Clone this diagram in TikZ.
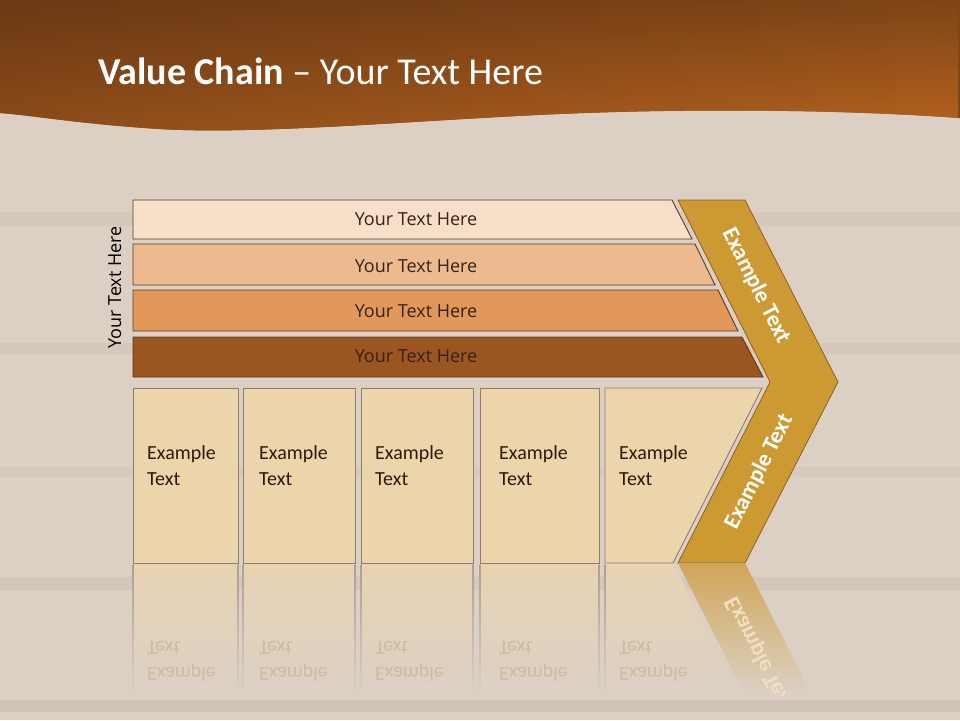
\documentclass[tikz,border=0pt]{standalone}
\usepackage{fontspec}
\setmainfont{Carlito}
\newfontfamily\opensans{Open Sans}
\definecolor{hdrTL}{HTML}{6A3914}
\definecolor{hdrTR}{HTML}{7E4517}
\definecolor{hdrBL}{HTML}{8E4D1A}
\definecolor{hdrBR}{HTML}{B8641F}
\definecolor{bgbase}{HTML}{DCD0C5}
\definecolor{wood}{HTML}{7A5A3C}
\definecolor{barA}{HTML}{F7DFCA}
\definecolor{barB}{HTML}{EDBA90}
\definecolor{barC}{HTML}{E2975B}
\definecolor{barD}{HTML}{9A5520}
\definecolor{barline}{HTML}{5A3A22}
\definecolor{boxfill}{HTML}{EDD5AB}
\definecolor{boxline}{HTML}{8C7D6E}
\definecolor{chev}{HTML}{CC9933}
\definecolor{chevline}{HTML}{8A6420}
\definecolor{bartext}{HTML}{33231A}
\definecolor{celltxt}{HTML}{2A1A0C}
\usetikzlibrary{fadings}
\tikzfading[name=hdrfade, top color=transparent!100, bottom color=transparent!0]
\begin{document}
\begin{tikzpicture}[x=1pt,y=-1pt,
  bar/.style={draw=barline, line width=0.9pt},
  barlabel/.style={font=\opensans\fontsize{18}{20}\selectfont, text=bartext, anchor=base, inner sep=0},
  cell/.style={draw=boxline, fill=boxfill, line width=0.9pt},
  celltext/.style={anchor=base west, inner sep=0, text=celltxt},
  reflcell/.style={top color=boxfill!70!bgbase, bottom color=bgbase},
  refltext/.style={anchor=base west, inner sep=0, text=celltxt!22!boxfill!60!bgbase, yscale=-1},
  chevronshape/.style={fill=chev, draw=chevline, line width=0.8pt},
  chevtext/.style={font=\bfseries\fontsize{23}{26}\selectfont, text=white, inner sep=0}
]
\useasboundingbox (0,0) rectangle (960,720);
% background
\fill[bgbase] (0,0) rectangle (960,720);
\fill[wood, opacity=0.06] (0,212) rectangle (960,226);
\fill[wood, opacity=0.06] (0,343) rectangle (960,354);
\fill[wood, opacity=0.05] (0,467) rectangle (960,477);
\fill[wood, opacity=0.08] (0,577) rectangle (960,590);
\fill[wood, opacity=0.10] (0,700) rectangle (960,712);
% header
\path[left color=hdrTL, right color=hdrTR] (0,0) -- (960,0) -- (960,118)
  .. controls (850,110) and (700,108) .. (560,114)
  .. controls (420,120) and (260,135) .. (160,129)
  .. controls (80,124) and (30,115) .. (0,113) -- cycle;
\path[left color=hdrBL, right color=hdrBR, path fading=hdrfade] (0,0) -- (960,0) -- (960,118)
  .. controls (850,110) and (700,108) .. (560,114)
  .. controls (420,120) and (260,135) .. (160,129)
  .. controls (80,124) and (30,115) .. (0,113) -- cycle;
\node[anchor=base west, text=white, inner sep=0, font=\fontsize{38}{40}\selectfont] (title) at (98,84) {\textbf{Value Chain} – Your Text Here};
% reflection (below the cells)
\begin{scope}
\clip (0,564) rectangle (960,695);
\shade[reflcell] (133,563) rectangle (238,695);
\shade[reflcell] (243,563) rectangle (355,695);
\shade[reflcell] (361,563) rectangle (473,695);
\shade[reflcell] (480,563) rectangle (599,695);
\shade[reflcell] (605,563) -- (673,563) -- (740,695) -- (605,695) -- cycle;
\shade[top color=chev!75!bgbase, bottom color=bgbase] (678,563) -- (745,563) -- (812,695) -- (745,695) -- cycle;
\foreach \x in {133,238,243,355,361,473,480,599,605}{
  \shade[top color=boxline!60!bgbase, bottom color=bgbase] (\x-0.5,563) rectangle (\x+0.5,695);
}
\end{scope}
\foreach \x/\n in {147/r1,259/r2,375/r3,499/r4,619/r5}{
  \node[refltext] (\n) at (\x,667) {\parbox[t]{90pt}{\fontsize{20}{26}\selectfont Example\\Text}};
}
\begin{scope}
\clip (678,563) -- (745,563) -- (812,695) -- (745,695) -- cycle;
\node[chevtext, rotate=-63.2, yscale=-1, text=white!70!chev] (rch) at (759,654) {Example Text};
\end{scope}
% bars
\path[bar, fill=barA] (133,200) -- (672,200) -- (692,239) -- (133,239) -- cycle;
\path[bar, fill=barB] (133,244) -- (695,244) -- (715,285) -- (133,285) -- cycle;
\path[bar, fill=barC] (133,290) -- (718,290) -- (738,331) -- (133,331) -- cycle;
\path[bar, fill=barD] (133,337) -- (742,337) -- (763,377) -- (133,377) -- cycle;
\node[barlabel] (b1) at (416,225) {Your Text Here};
\node[barlabel] (b2) at (416,272) {Your Text Here};
\node[barlabel] (b3) at (416,317.5) {Your Text Here};
\node[barlabel] (b4) at (416,362) {Your Text Here};
\node[barlabel, rotate=90, text=black] (side) at (121,287.5) {Your Text Here};
% cells
\path[cell] (133,388) rectangle (238,563);
\path[cell] (243,388) rectangle (355,563);
\path[cell] (361,388) rectangle (473,563);
\path[cell] (480,388) rectangle (599,563);
\path[cell] (605,388) -- (762,388) -- (673,563) -- (605,563) -- cycle;
\foreach \x/\n in {147/c1,259/c2,375/c3,499/c4,619/c5}{
  \node[celltext] (\n) at (\x,459) {\parbox[t]{90pt}{\fontsize{20}{26}\selectfont Example\\Text}};
}
% chevron
\path[chevronshape] (678,200) -- (745,200) -- (838,382) -- (745,563) -- (678,563) -- (770,382) -- cycle;
\node[chevtext, rotate=-63.2] (ch1) at (756,286) {Example Text};
\node[chevtext, rotate=63.2] (ch2) at (759,472) {Example Text};
\end{tikzpicture}
\end{document}
